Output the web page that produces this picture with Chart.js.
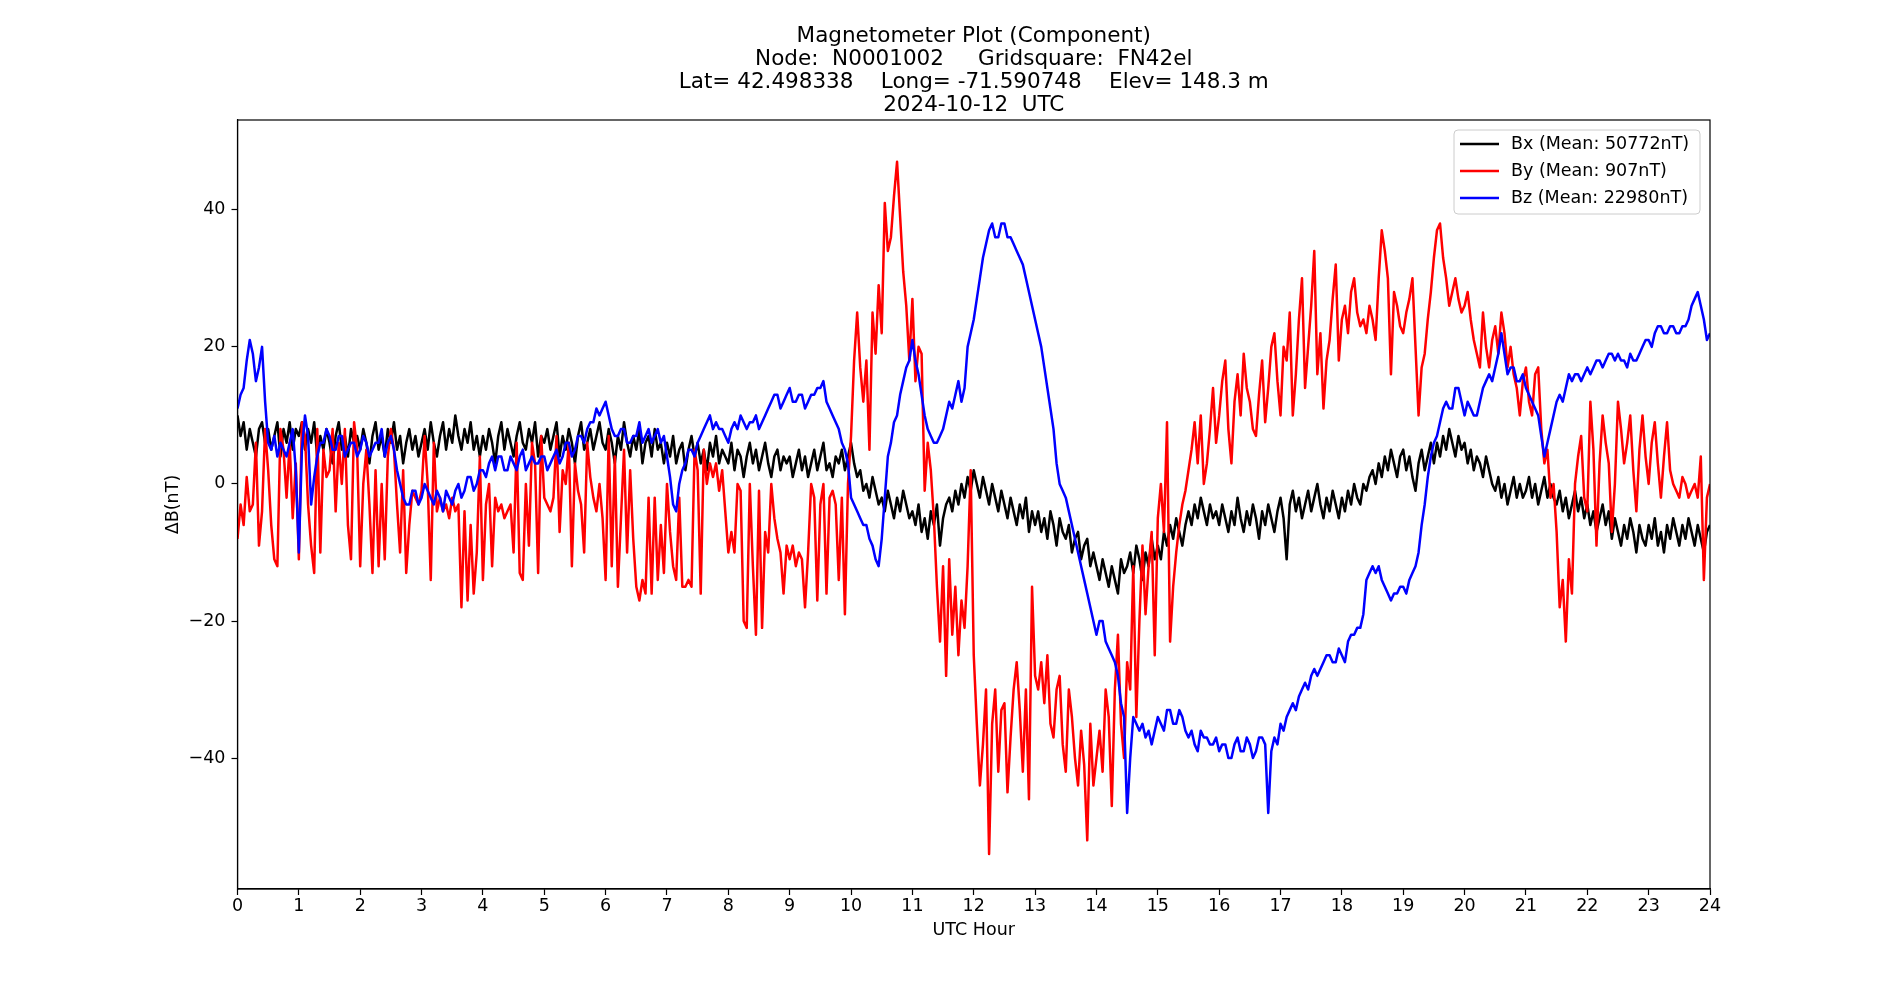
<!DOCTYPE html>
<html><head><meta charset="utf-8">
<script src="https://cdn.jsdelivr.net/npm/chart.js@4.4.1/dist/chart.umd.min.js"></script>
<style>html,body{margin:0;padding:0;background:#fff;}#wrap{width:1900px;height:1000px;}</style>
</head><body><div id="wrap"><canvas id="c" width="1900" height="1000"></canvas></div>
<script>
const titleLines = [
  'Magnetometer Plot (Component)',
  'Node:  N0001002     Gridsquare:  FN42el',
  'Lat= 42.498338    Long= -71.590748    Elev= 148.3 m',
  '2024-10-12  UTC'
];
const seriesLabels = ['Bx (Mean: 50772nT)', 'By (Mean: 907nT)', 'Bz (Mean: 22980nT)'];
const seriesColors = ['#000000', '#ff0000', '#0000ff'];
const xTitle = 'UTC Hour';
const yTitle = '\u0394B(nT)';
const xTicks = [0,1,2,3,4,5,6,7,8,9,10,11,12,13,14,15,16,17,18,19,20,21,22,23,24];
const yTicks = [-40,-20,0,20,40];
const xRange = [0, 24];
const yRange = [-59.1, 53.1];

// sample spacing in hours
const bxStep = 0.05;
const byStep = 0.05;
const bzStep = 0.05;

const bx = [
10,7,9,5,8,6,4,8,9,6,8,5,7,9,4,8,6,9,5,8,
7,9,5,8,6,9,4,7,5,8,6,3,7,9,5,7,4,8,6,7,
5,8,6,3,7,9,5,7,4,8,6,9,5,7,3,6,8,5,7,4,
6,8,5,9,6,4,7,9,5,8,6,10,7,5,8,6,9,5,7,4,
7,5,8,6,3,7,9,5,8,6,4,7,9,6,5,8,6,9,4,7,
6,8,5,7,9,4,7,5,8,6,3,7,9,5,6,8,5,7,9,6,
5,8,6,3,7,5,9,6,4,7,5,8,3,6,7,4,8,5,6,3,
6,4,7,3,5,6,2,5,7,4,6,3,5,2,6,4,7,3,5,4,
3,6,2,5,4,1,4,6,3,5,2,4,6,3,1,4,5,2,4,3,
4,1,3,5,2,4,1,3,5,2,4,6,2,3,1,4,3,5,2,4,
6,3,1,2,-1,0,-2,1,-1,-3,-2,-4,-1,-3,-5,-2,-4,-1,-3,-5,
-4,-6,-3,-7,-5,-8,-4,-6,-3,-9,-5,-3,-2,-4,-1,-3,0,-2,1,-1,
2,0,-2,1,-1,-3,0,-2,-4,-1,-3,-5,-2,-4,-6,-3,-5,-2,-7,-4,
-6,-4,-7,-5,-8,-4,-6,-9,-5,-7,-8,-6,-10,-8,-7,-11,-9,-8,-12,-10,
-12,-14,-11,-13,-15,-12,-14,-16,-11,-13,-12,-10,-13,-9,-11,-14,-10,-12,-8,-11,
-9,-11,-7,-9,-6,-8,-5,-7,-9,-6,-4,-6,-3,-5,-2,-4,-6,-3,-5,-4,
-6,-3,-5,-7,-4,-6,-2,-5,-7,-4,-6,-3,-5,-8,-4,-6,-3,-5,-7,-4,
-2,-5,-11,-3,-1,-4,-2,-5,-3,-1,-4,-2,0,-3,-5,-2,-4,-1,-3,-5,
-2,-4,-1,-3,0,-2,-3,0,-1,1,2,0,3,1,4,2,5,3,1,4,
5,2,4,1,-1,3,5,2,4,6,3,6,4,7,5,8,6,4,7,5,
6,3,5,2,4,3,1,4,2,0,-1,1,-2,0,-3,-1,1,-2,0,-2,
-1,1,-2,0,-3,-1,1,-2,0,-2,-3,-1,-4,-2,-5,-3,-1,-4,-2,-5,
-3,-6,-4,-7,-5,-3,-6,-4,-8,-5,-7,-9,-6,-8,-5,-7,-10,-6,-8,-9,
-6,-8,-5,-9,-7,-10,-6,-8,-5,-7,-9,-6,-8,-5,-7,-9,-6,-8,-10,-7,
-6];

const by = [
-8,-3,-6,1,-4,-3,6,-9,-4,8,2,-6,-11,-12,8,5,-2,6,-5,3,
-11,9,7,-3,-9,-13,8,-10,5,1,2,8,-4,6,0,8,-6,-11,9,5,
-12,0,5,-3,-13,2,-12,0,-11,4,8,5,-3,-10,2,-13,-6,-1,-2,-3,
-1,7,0,-14,6,-4,-2,-4,-3,-5,-2,-4,-3,-18,-4,-17,-6,-16,-10,4,
-14,-3,0,-12,-2,-4,-3,-5,-4,-3,-10,6,-13,-14,0,-9,6,3,-13,7,
-2,-3,-4,-2,7,-7,2,0,6,-12,3,-1,-3,-10,6,1,-2,-4,0,-5,
-14,7,-12,4,-15,-5,5,-10,2,-8,-15,-17,-14,-16,-2,-16,-2,-14,-6,-13,
0,-7,-12,-14,-2,-15,-15,-14,-15,5,2,-16,5,0,3,1,3,-1,2,-4,
-10,-7,-10,0,-1,-20,-21,0,-12,-22,-1,-21,-7,-10,0,-5,-8,-10,-16,-9,
-11,-9,-12,-10,-11,-18,-10,0,-2,-17,-3,0,-16,-2,-1,-3,-14,-2,-19,0,
7,18,25,17,12,18,5,25,19,29,22,41,34,36,42,47,39,31,26,18,
27,15,20,19,-1,6,2,-5,-15,-23,-12,-28,-11,-22,-15,-25,-17,-21,-12,2,
-25,-35,-44,-38,-30,-54,-35,-30,-42,-33,-32,-45,-37,-30,-26,-33,-42,-30,-46,-15,
-28,-30,-26,-32,-25,-35,-37,-30,-28,-38,-42,-30,-34,-40,-44,-36,-41,-52,-35,-44,
-40,-36,-42,-30,-34,-47,-30,-22,-35,-40,-26,-30,-12,-34,-20,-9,-19,-12,-7,-25,
-5,0,-7,9,-23,-15,-10,-6,-3,-1,2,5,9,3,10,0,3,8,14,6,
10,15,18,8,3,12,16,10,19,14,12,8,7,13,18,9,14,20,22,15,
10,20,18,25,10,16,24,30,14,20,26,34,16,22,11,18,21,27,32,18,
24,26,22,28,30,25,23,24,22,26,24,21,30,37,34,30,16,28,26,23,
22,25,27,30,20,10,17,19,24,28,33,37,38,33,30,26,28,30,27,25,
26,28,24,21,19,17,25,20,17,21,23,19,25,22,17,20,16,14,10,15,
17,12,10,16,17,8,3,5,-2,0,-7,-18,-14,-23,-11,-16,0,4,7,-2,
-4,12,5,-9,3,10,6,3,-7,0,12,8,3,6,10,2,-4,5,10,4,
0,6,9,3,-2,4,9,2,0,-1,-2,1,0,-2,-1,0,-2,4,-14,-2,
0];

const bz = [
11,13,14,18,21,19,15,17,20,12,6,5,7,4,6,5,4,6,8,2,
-10,5,10,7,-3,1,4,6,6,8,7,5,5,7,7,4,5,6,6,4,
5,7,6,4,5,6,6,8,4,6,7,5,2,0,-2,-3,-3,-1,-1,-3,
-2,0,-1,-2,-3,-1,-2,-4,-1,-2,-3,-1,0,-2,-1,1,1,-1,0,2,
2,1,3,4,2,4,4,2,2,4,3,2,4,5,2,3,4,3,3,4,
4,2,3,4,5,3,4,6,6,4,5,7,7,6,8,9,9,11,10,11,
12,10,8,7,7,8,8,6,6,7,7,9,6,7,8,6,7,8,6,7,
4,1,-3,-4,0,2,3,5,5,4,6,7,8,9,10,8,9,8,8,7,
6,8,9,8,10,9,8,9,9,10,8,9,10,11,12,13,13,11,12,13,
14,12,12,13,13,11,12,13,13,14,14,15,12,11,10,9,8,6,5,3,
-2,-3,-4,-5,-6,-6,-8,-9,-11,-12,-8,-2,4,6,9,10,13,15,17,18,
21,18,16,13,10,8,7,6,6,7,8,10,12,11,13,15,12,14,20,22,
24,27,30,33,35,37,38,36,36,38,38,36,36,35,34,33,32,30,28,26,
24,22,20,17,14,11,8,3,0,-1,-2,-4,-6,-8,-10,-12,-14,-16,-18,-20,
-22,-20,-20,-23,-24,-25,-26,-28,-32,-34,-48,-40,-34,-35,-36,-35,-37,-36,-38,-36,
-34,-35,-36,-33,-33,-35,-35,-33,-34,-36,-37,-36,-38,-39,-36,-37,-37,-38,-38,-37,
-39,-38,-38,-40,-40,-38,-37,-39,-39,-37,-38,-40,-39,-37,-37,-38,-48,-39,-37,-38,
-35,-36,-34,-33,-32,-33,-31,-30,-29,-30,-28,-27,-28,-27,-26,-25,-25,-26,-26,-24,
-25,-26,-23,-22,-22,-21,-21,-19,-14,-13,-12,-13,-12,-14,-15,-16,-17,-16,-16,-15,
-15,-16,-14,-13,-12,-10,-6,-3,1,4,6,7,9,11,12,11,11,14,14,12,
10,12,11,10,10,12,14,15,16,15,17,19,22,19,16,17,17,15,15,16,
14,13,12,11,10,7,4,6,8,10,12,13,12,14,16,15,16,16,15,16,
17,16,17,18,18,17,18,19,19,18,19,18,18,17,19,18,18,19,20,21,
21,20,22,23,23,22,22,23,23,22,22,23,23,24,26,27,28,26,24,21,
22];

const FONT = "'DejaVu Sans', sans-serif";
const LINE_W = 2.5;
function toPoints(arr, step) { return arr.map((v, i) => ({x: i * step, y: v})); }
function fmt(v) { return v < 0 ? '\u2212' + Math.abs(v) : String(v); }

const frameAndText = {
  id: 'frameAndText',
  afterDraw(chart) {
    const ctx = chart.ctx;
    const a = chart.chartArea;
    ctx.save();
    ctx.strokeStyle = '#000';
    ctx.lineWidth = 1.2;
    ctx.strokeRect(a.left, a.top, a.right - a.left, a.bottom - a.top);
    ctx.fillStyle = '#000';
    ctx.font = '21.5px ' + FONT;
    ctx.textAlign = 'center';
    ctx.textBaseline = 'middle';
    const cx = (a.left + a.right) / 2;
    titleLines.forEach((t, i) => ctx.fillText(t, cx, a.top - 84 + i * 23));
    const bw = 246, bh = 84;
    const bxL = a.right - 10 - bw, byT = a.top + 10;
    ctx.beginPath();
    if (ctx.roundRect) ctx.roundRect(bxL, byT, bw, bh, 4); else ctx.rect(bxL, byT, bw, bh);
    ctx.fillStyle = 'rgba(255,255,255,0.8)';
    ctx.fill();
    ctx.strokeStyle = '#cccccc';
    ctx.lineWidth = 1;
    ctx.stroke();
    ctx.font = '17.5px ' + FONT;
    ctx.textAlign = 'left';
    seriesLabels.forEach((lab, i) => {
      const y = byT + 14 + i * 27;
      ctx.strokeStyle = seriesColors[i];
      ctx.lineWidth = LINE_W;
      ctx.beginPath();
      ctx.moveTo(bxL + 6, y);
      ctx.lineTo(bxL + 45, y);
      ctx.stroke();
      ctx.fillStyle = '#000';
      ctx.fillText(lab, bxL + 57, y);
    });
    ctx.restore();
  }
};

new Chart(document.getElementById('c'), {
  type: 'line',
  data: {
    datasets: [
      {label: seriesLabels[0], data: toPoints(bx, bxStep), borderColor: seriesColors[0], order: 2},
      {label: seriesLabels[1], data: toPoints(by, byStep), borderColor: seriesColors[1], order: 1},
      {label: seriesLabels[2], data: toPoints(bz, bzStep), borderColor: seriesColors[2], order: 0}
    ]
  },
  options: {
    responsive: false,
    devicePixelRatio: 1,
    animation: false,
    parsing: false,
    normalized: true,
    layout: {padding: {left: 150, right: 190, top: 120, bottom: 59}},
    elements: {
      line: {borderWidth: LINE_W, tension: 0, fill: false, borderJoinStyle: 'round'},
      point: {radius: 0, hoverRadius: 0}
    },
    plugins: {legend: {display: false}, title: {display: false}, tooltip: {enabled: false}},
    scales: {
      x: {
        type: 'linear', min: xRange[0], max: xRange[1],
        afterBuildTicks: s => { s.ticks = xTicks.map(v => ({value: v})); },
        afterFit: s => { s.height = 52; s.paddingLeft = 0; s.paddingRight = 0; },
        ticks: {color: '#000', font: {family: FONT, size: 17.5}, padding: 1, maxRotation: 0, autoSkip: false, callback: v => fmt(v)},
        grid: {display: true, drawOnChartArea: false, drawTicks: true, tickLength: 6, tickColor: '#000', tickWidth: 1.2},
        border: {display: true, color: '#000', width: 1.2},
        title: {display: true, text: xTitle, color: '#000', font: {family: FONT, size: 17.5}, padding: {top: 0, bottom: 0}}
      },
      y: {
        type: 'linear', min: yRange[0], max: yRange[1],
        afterBuildTicks: s => { s.ticks = yTicks.map(v => ({value: v})); },
        afterFit: s => { s.width = 87.5; s.paddingTop = 0; s.paddingBottom = 0; },
        ticks: {color: '#000', font: {family: FONT, size: 17.5}, padding: 6, autoSkip: false, callback: v => fmt(v)},
        grid: {display: true, drawOnChartArea: false, drawTicks: true, tickLength: 6, tickColor: '#000', tickWidth: 1.2},
        border: {display: true, color: '#000', width: 1.2},
        title: {display: true, text: yTitle, color: '#000', font: {family: FONT, size: 17.5}, padding: {top: 12.5, bottom: 0}}
      }
    }
  },
  plugins: [frameAndText]
});
</script></body></html>
